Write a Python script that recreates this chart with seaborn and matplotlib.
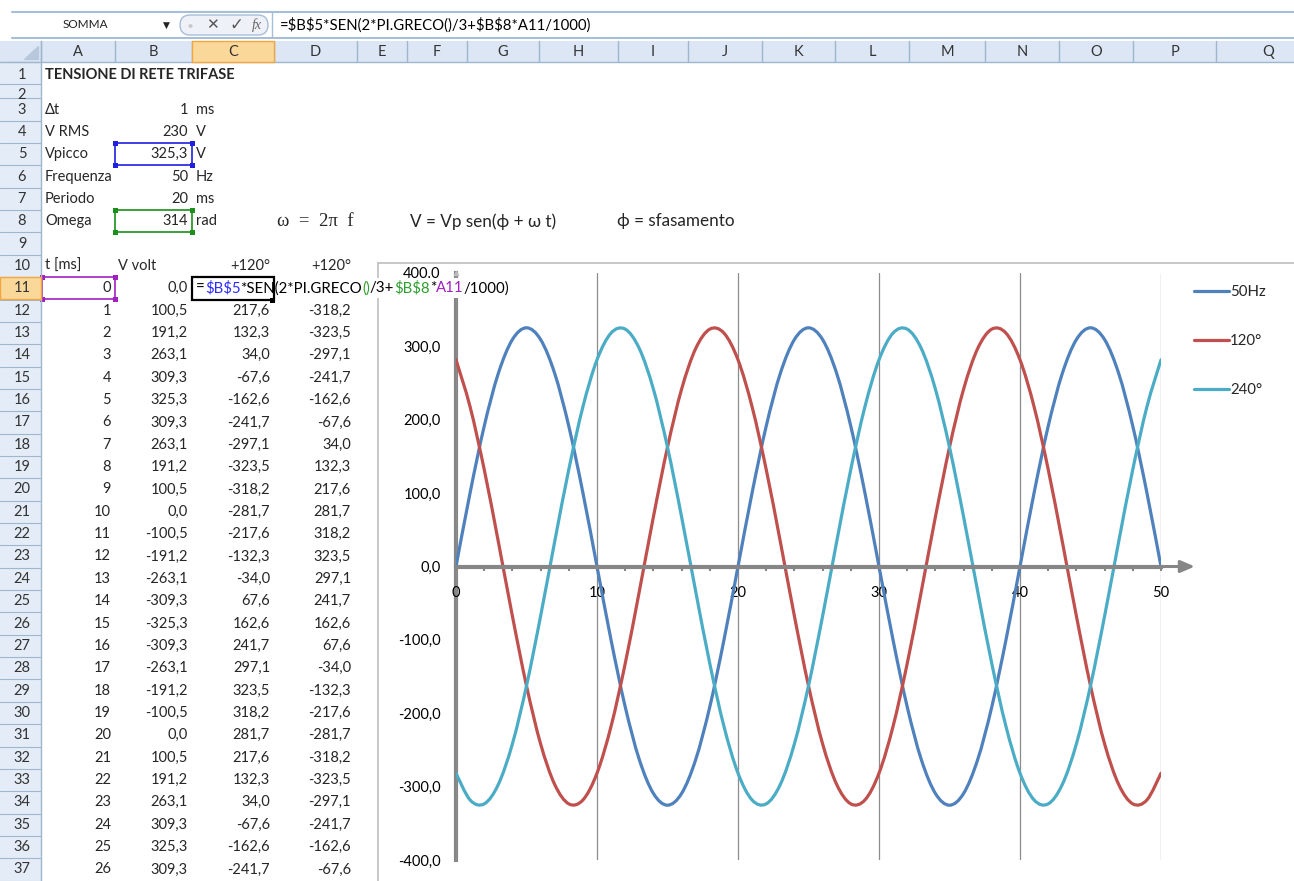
import numpy as np
import pandas as pd
import matplotlib
matplotlib.use("Agg")
import matplotlib.pyplot as plt
from matplotlib.patches import Rectangle, FancyBboxPatch, PathPatch
from matplotlib.path import Path
from matplotlib.ticker import FixedLocator, FixedFormatter, MultipleLocator
import seaborn as sns

# --- data (t in ms, volts) ---
t_ms = list(range(51))
v_50hz = [0.0, 100.5, 191.2, 263.1, 309.3, 325.3, 309.3, 263.1, 191.2, 100.5,
          0.0, -100.5, -191.2, -263.1, -309.3, -325.3, -309.3, -263.1, -191.2, -100.5,
          0.0, 100.5, 191.2, 263.1, 309.3, 325.3, 309.3, 263.1, 191.2, 100.5,
          0.0, -100.5, -191.2, -263.1, -309.3, -325.3, -309.3, -263.1, -191.2, -100.5,
          0.0, 100.5, 191.2, 263.1, 309.3, 325.3, 309.3, 263.1, 191.2, 100.5, 0.0]
v_120 = [281.7, 217.6, 132.3, 34.0, -67.6, -162.6, -241.7, -297.1, -323.5, -318.2,
         -281.7, -217.6, -132.3, -34.0, 67.6, 162.6, 241.7, 297.1, 323.5, 318.2,
         281.7, 217.6, 132.3, 34.0, -67.6, -162.6, -241.7, -297.1, -323.5, -318.2,
         -281.7, -217.6, -132.3, -34.0, 67.6, 162.6, 241.7, 297.1, 323.5, 318.2,
         281.7, 217.6, 132.3, 34.0, -67.6, -162.6, -241.7, -297.1, -323.5, -318.2, -281.7]
v_240 = [-281.7, -318.2, -323.5, -297.1, -241.7, -162.6, -67.6, 34.0, 132.3, 217.6,
         281.7, 318.2, 323.5, 297.1, 241.7, 162.6, 67.6, -34.0, -132.3, -217.6,
         -281.7, -318.2, -323.5, -297.1, -241.7, -162.6, -67.6, 34.0, 132.3, 217.6,
         281.7, 318.2, 323.5, 297.1, 241.7, 162.6, 67.6, -34.0, -132.3, -217.6,
         -281.7, -318.2, -323.5, -297.1, -241.7, -162.6, -67.6, 34.0, 132.3, 217.6, 281.7]
series_names = ["50Hz", "120°", "240°"]
series_colors = ["#4F81BD", "#C0504D", "#4BACC6"]

y_ticks = [-400, -300, -200, -100, 0, 100, 200, 300, 400]
y_labels = ["-400,0", "-300,0", "-200,0", "-100,0", "0,0", "100,0", "200,0", "300,0", "400.0"]
x_ticks = [0, 10, 20, 30, 40, 50]

params = [("Δt", "1", "ms"), ("V RMS", "230", "V"), ("Vpicco", "325,3", "V"),
          ("Frequenza", "50", "Hz"), ("Periodo", "20", "ms"), ("Omega", "314", "rad")]
table_headers = ["t [ms]", "V volt", "+120°", "+120°"]
n_rows_shown = 27

col_letters = list("ABCDEFGHIJKLMNOPQ")
col_edges = [41, 115, 192, 274, 357, 407, 467, 539, 618, 688, 762, 835, 909, 985, 1059, 1133, 1216, 1320]

formula = "=$B$5*SEN(2*PI.GRECO()/3+$B$8*A11/1000)"
formula_parts = [("=", "black"), ("$B$5", "#2B2BFF"), ("*SEN(2*PI.GRECO", "black"),
                 ("()", "#2E9E2E"), ("/3+", "black"), ("$B$8", "#2E9E2E"), ("*", "black"),
                 ("A11", "#A020C0"), ("/1000)", "black")]


def fmt(v):
    return f"{v:.1f}".replace(".", ",")


def row_y(r):
    if r == 1:
        return 75
    if r == 2:
        return 93
    return 109.5 + (r - 3) * 22.35


def smooth_path(x, y):
    # excel-style "smoothed line": cubic bezier through the points
    x = np.asarray(x, float)
    y = np.asarray(y, float)
    xp = np.r_[x[0], x, x[-1]]
    yp = np.r_[y[0], y, y[-1]]
    verts = [(x[0], y[0])]
    codes = [Path.MOVETO]
    for i in range(len(x) - 1):
        c1 = (x[i] + (xp[i + 2] - xp[i]) / 6, y[i] + (yp[i + 2] - yp[i]) / 6)
        c2 = (x[i + 1] - (xp[i + 3] - xp[i + 1]) / 6, y[i + 1] - (yp[i + 3] - yp[i + 1]) / 6)
        verts += [c1, c2, (x[i + 1], y[i + 1])]
        codes += [Path.CURVE4] * 3
    return Path(verts, codes)


sns.set_theme(style="white")
FONT = ["Lato", "DejaVu Sans"]
SERIF = ["Liberation Serif", "DejaVu Serif"]
plt.rcParams["font.family"] = FONT

W, H = 1294, 881
fig = plt.figure(figsize=(W / 100, H / 100), dpi=100)

bg = fig.add_axes([0, 0, 1, 1], zorder=0)
bg.set_xlim(0, W)
bg.set_ylim(H, 0)
bg.axis("off")

fs = 10.5
fs_formula = 10.7
hdr_line = "#9EB6CE"

# formula bar
bg.plot([12, W], [12, 12], color="#A8BDD6", lw=1.5)
bg.plot([12, W], [38, 38], color="#A8BDD6", lw=1.5)
bg.text(85, 25, "SOMMA", fontsize=8.5, ha="center", va="center", color="#222222")
bg.text(166, 25, "▼", fontsize=6.5, ha="center", va="center", color="#222222")
bg.add_patch(FancyBboxPatch((180, 15), 88, 20, boxstyle="round,pad=0,rounding_size=10",
                            fc="#EEF2F8", ec="#A8BDD6", lw=1))
bg.text(190, 25, "●", fontsize=6, ha="center", va="center", color="#C8C8C8")
bg.text(212, 25, "✕", fontsize=11, ha="center", va="center", color="#555555", family="DejaVu Sans")
bg.text(236, 25, "✓", fontsize=12, ha="center", va="center", color="#555555", family="DejaVu Sans")
bg.text(257, 25, "fx", fontsize=10, ha="center", va="center", color="#666666", style="italic", family=SERIF)
bg.plot([272, 272], [13, 37], color="#A8BDD6", lw=1)
bg.text(280, 25, formula, fontsize=fs_formula, ha="left", va="center", color="black", parse_math=False)

# column header row
bg.add_patch(Rectangle((0, 41), W, 21, fc="#DCE6F4", ec="none"))
bg.add_patch(Rectangle((192, 41), 82, 21, fc="#F9D89A", ec="#F2A640", lw=1, zorder=3))
bg.fill([38, 38, 24], [46, 59, 59], color="#B8C8DC")
bg.plot([0, W], [62, 62], color=hdr_line, lw=1)
for e in col_edges:
    bg.plot([e, e], [41, 62], color=hdr_line, lw=1)
for i, letter in enumerate(col_letters):
    cx = (col_edges[i] + col_edges[i + 1]) / 2
    bg.text(cx, 52, letter, fontsize=fs, ha="center", va="center", color="#333333", zorder=4)

# row header column
bg.add_patch(Rectangle((0, 62), 41, H - 62, fc="#E4ECF7", ec="none"))
bg.plot([41, 41], [41, H], color=hdr_line, lw=1)
bounds = [62, 84, 97.5] + [row_y(r) + 11.2 for r in range(3, 38)]
for b in bounds:
    bg.plot([0, 41], [b, b], color=hdr_line, lw=0.8)
bg.add_patch(Rectangle((0, row_y(11) - 11.2), 41, 22.35, fc="#F9D89A", ec="#F2A640", lw=1, zorder=3))
for r in range(1, 38):
    if r == 2:
        continue
    bg.text(22, row_y(r), str(r), fontsize=fs, ha="center", va="center", color="#333333", zorder=4)
# row 2 is squashed: only the top of its number shows
t2 = bg.text(22, 95, "2", fontsize=fs, ha="center", va="center", color="#333333", zorder=4)
clip = Rectangle((0, 84.5), 41, 7.5, transform=bg.transData, fc="none", ec="none")
bg.add_patch(clip)
t2.set_clip_path(clip)

# title and parameter block
x_a = 45
bg.text(x_a, row_y(1), "TENSIONE DI RETE TRIFASE", fontsize=fs, fontweight="bold", ha="left", va="center")
for i, (name, val, unit) in enumerate(params):
    y = row_y(3 + i)
    bg.text(x_a, y, name, fontsize=fs, ha="left", va="center")
    bg.text(188, y, val, fontsize=fs, ha="right", va="center")
    bg.text(196, y, unit, fontsize=fs, ha="left", va="center")

for (r, c) in [(5, "#1F1FE0"), (8, "#1A8F1A")]:
    y0, y1 = row_y(r) - 11, row_y(r) + 11
    bg.add_patch(Rectangle((115, y0), 77, y1 - y0, fc="none", ec=c, lw=1.2))
    for cx in (115, 192):
        for cy in (y0, y1):
            bg.add_patch(Rectangle((cx - 2.5, cy - 2.5), 5, 5, fc=c, ec="none"))

y8 = row_y(8)
bg.text(277, y8, "ω  =  2π  f", fontsize=fs + 3, ha="left", va="center", family=SERIF)
bg.text(410, y8, "V = Vp sen(ϕ + ω t)", fontsize=fs + 1.8, ha="left", va="center", family=FONT)
bg.text(617, y8, "ϕ = sfasamento", fontsize=fs + 1.8, ha="left", va="center", family=FONT)

# data table
y10 = row_y(10)
bg.text(x_a, y10, table_headers[0], fontsize=fs, ha="left", va="center")
bg.text(118, y10, table_headers[1], fontsize=fs, ha="left", va="center")
bg.text(270, y10, table_headers[2], fontsize=fs, ha="right", va="center")
bg.text(351, y10, table_headers[3], fontsize=fs, ha="right", va="center")
for i in range(n_rows_shown):
    y = row_y(11 + i)
    bg.text(111, y, str(t_ms[i]), fontsize=fs, ha="right", va="center")
    bg.text(188, y, fmt(v_50hz[i]), fontsize=fs, ha="right", va="center")
    if i > 0:
        bg.text(270, y, fmt(v_120[i]), fontsize=fs, ha="right", va="center")
        bg.text(351, y, fmt(v_240[i]), fontsize=fs, ha="right", va="center")

# selected cell A11
y0, y1 = row_y(11) - 11, row_y(11) + 11
bg.add_patch(Rectangle((42, y0), 73, y1 - y0, fc="none", ec="#A020C0", lw=1.2))
for cx in (42, 115):
    for cy in (y0, y1):
        bg.add_patch(Rectangle((cx - 2.5, cy - 2.5), 5, 5, fc="#A020C0", ec="none"))

# chart frame
bg.plot([378, 378], [263, H], color="#BFBFBF", lw=1.2)
bg.plot([378, W], [263, 263], color="#BFBFBF", lw=1.2)

# --- the chart ---
px_l, px_r, px_t, px_b = 456, 1161, 273, 860
ax = fig.add_axes([px_l / W, (H - px_b) / H, (px_r - px_l) / W, (px_b - px_t) / H], zorder=1)
ax.patch.set_alpha(0)

df = pd.DataFrame({
    "t": t_ms * 3,
    "V": v_50hz + v_120 + v_240,
    "serie": [series_names[0]] * 51 + [series_names[1]] * 51 + [series_names[2]] * 51,
})
sns.lineplot(data=df, x="t", y="V", hue="serie", hue_order=series_names,
             palette=series_colors, linewidth=2.3, ax=ax, legend=True)

ax.set_xlim(0, 50)
ax.set_ylim(-400, 400)
ax.set_xlabel("")
ax.set_ylabel("")
gray = "#868686"
for s in ["top", "right"]:
    ax.spines[s].set_visible(False)
ax.spines["bottom"].set_position(("data", 0))
ax.spines["bottom"].set_color(gray)
ax.spines["bottom"].set_linewidth(3)
ax.spines["left"].set_color(gray)
ax.spines["left"].set_linewidth(3)
ax.spines["left"].set_zorder(0.5)

ax.xaxis.set_major_locator(FixedLocator(x_ticks))
ax.xaxis.set_minor_locator(MultipleLocator(2))
ax.set_xticklabels([str(v) for v in x_ticks])
ax.tick_params(axis="x", which="both", direction="out", length=3, width=1.5, color=gray,
               pad=11, labelsize=fs, labelcolor="black")
ax.tick_params(axis="x", which="both", bottom=True)
ax.yaxis.set_major_locator(FixedLocator(y_ticks))
ax.yaxis.set_major_formatter(FixedFormatter(y_labels))
ax.tick_params(axis="y", length=0, pad=11, labelsize=fs, labelcolor="black")
ax.grid(axis="x", which="major", color="#8C8C8C", lw=0.9)
ax.grid(axis="y", visible=False)
ax.set_axisbelow(True)

ax.annotate("", xy=(52.4, 0), xytext=(49.9, 0), annotation_clip=False,
            arrowprops=dict(arrowstyle="-|>,head_length=0.7,head_width=0.3", color=gray,
                            lw=2.2, shrinkA=0, shrinkB=0))
ax.plot([0], [400], marker="^", ms=3, color="#BBBBBB", clip_on=False)

leg = ax.legend(loc="upper left", bbox_to_anchor=(1188 / W, 1 - 279 / H), bbox_transform=fig.transFigure,
                frameon=False, fontsize=fs + 0.3, labelspacing=2.35, handlelength=2.3, handletextpad=0.1,
                borderaxespad=0)
for line in leg.get_lines():
    line.set_linewidth(2.3)

# swap the straight segments for excel-like smoothed curves
for line in list(ax.lines)[:3]:
    xd, yd = line.get_xdata(), line.get_ydata()
    ax.add_patch(PathPatch(smooth_path(xd, yd), fc="none", ec=line.get_color(), lw=2.3,
                           capstyle="round", joinstyle="round", zorder=2))
    line.set_visible(False)

# --- in-cell formula edit overlay ---
fg = fig.add_axes([0, 0, 1, 1], zorder=2)
fg.set_xlim(0, W)
fg.set_ylim(H, 0)
fg.axis("off")
fg.patch.set_alpha(0)
y11 = row_y(11)
fg.add_patch(Rectangle((192, y11 - 10), 322, 20, fc="white", ec="none"))
fg.add_patch(Rectangle((192, y11 - 11.5), 82, 23, fc="none", ec="black", lw=1.6))
fg.add_patch(Rectangle((270, y11 + 9.5), 5, 5, fc="black", ec="none"))

renderer = fig.canvas.get_renderer()
x = 196
for s, c in formula_parts:
    txt = fg.text(x, y11, s, fontsize=fs_formula + 0.1, ha="left", va="center", color=c,
                  parse_math=False, zorder=5)
    bb = txt.get_window_extent(renderer)
    x += bb.width

fig.savefig("out.png", dpi=100)
